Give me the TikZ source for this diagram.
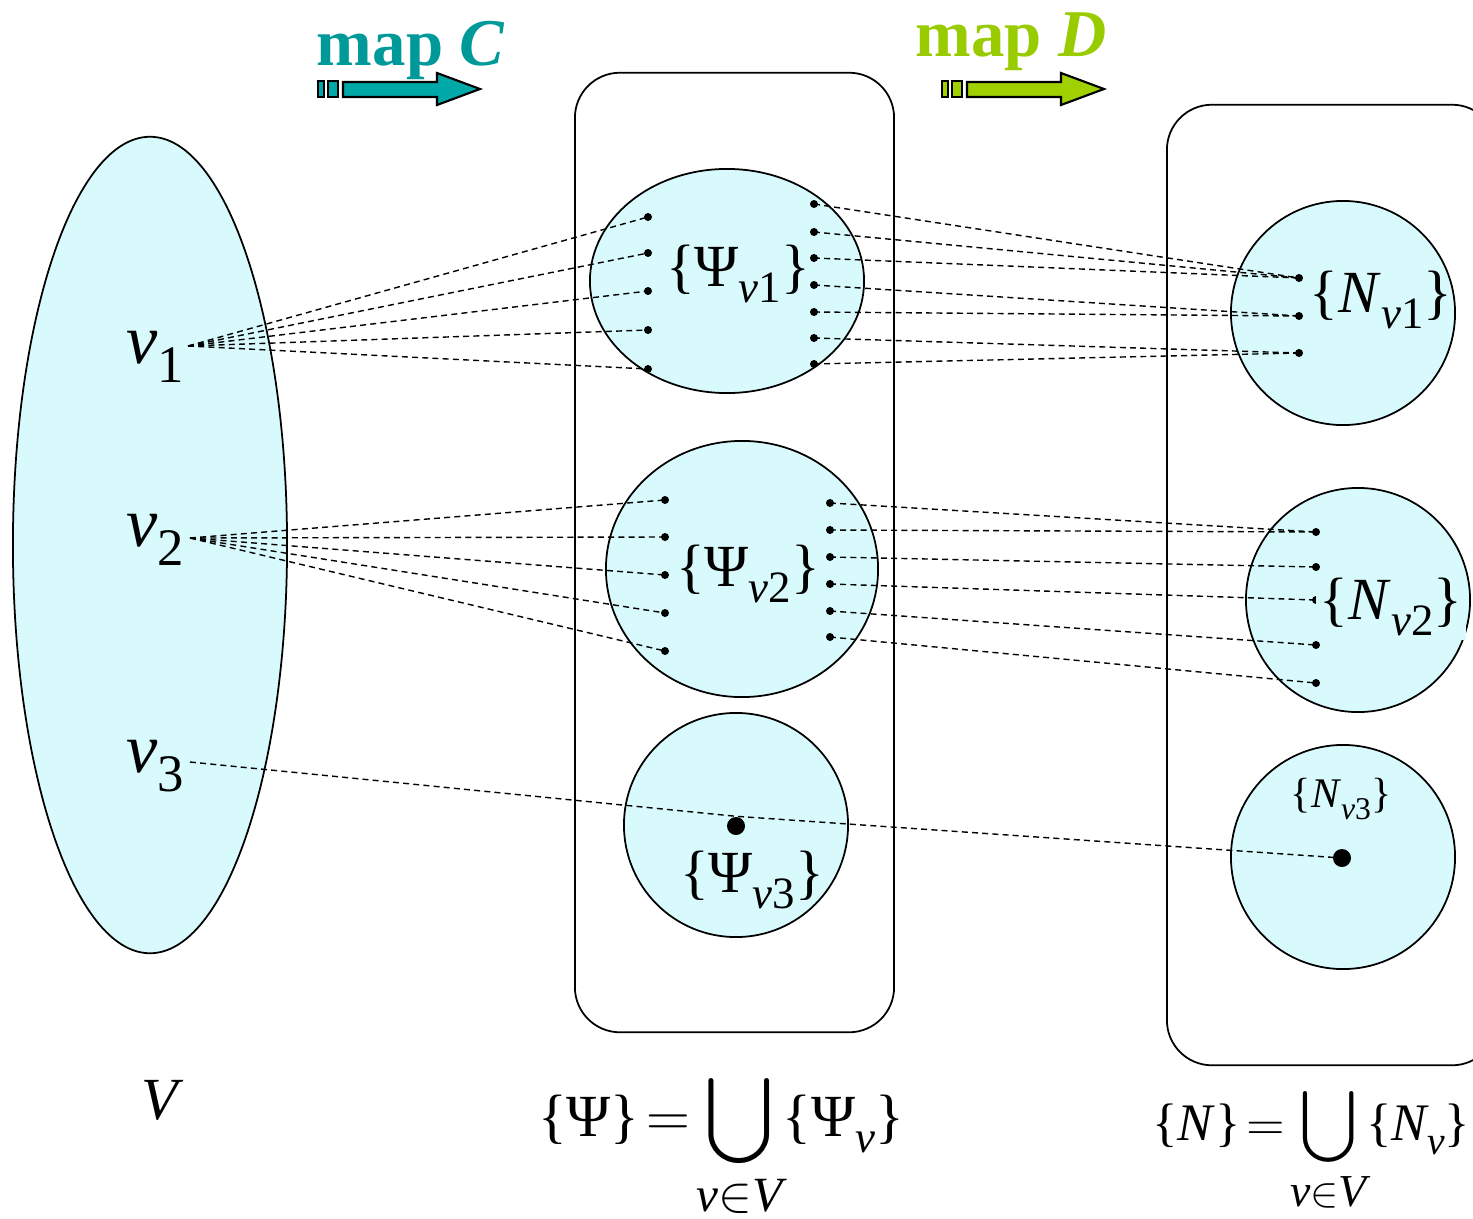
\documentclass[tikz,border=0pt]{standalone}
\usepackage{amsmath}
\usepackage{fontspec}
\setmainfont{Liberation Serif}
\usetikzlibrary{shapes.geometric}

\definecolor{setfill}{RGB}{217,250,252}
\definecolor{mapC}{RGB}{0,153,153}
\definecolor{mapCfill}{RGB}{0,168,168}
\definecolor{mapD}{RGB}{153,204,0}
\definecolor{mapDfill}{RGB}{160,208,0}

\newcommand{\lo}[1]{\raisebox{-0.28em}{\scalebox{0.75}{#1}}}
\newcommand{\fs}[1]{\fontsize{#1}{#1}\selectfont}
% block arrow under the map titles
\newcommand{\maparrow}[2]{%
	\begin{scope}[shift={(#1,0)}]
		\filldraw[fill=#2, line width=0.6pt] (0,81) rectangle (6,97) (10,81) rectangle (20,97);
		\filldraw[fill=#2, line width=0.6pt] (25,82) -- (119,82) -- (119,73) -- (162,89) -- (119,105) -- (119,97) -- (25,97) -- cycle;
	\end{scope}}

\tikzset{
	blob/.style={draw, fill=setfill, line width=0.5pt, inner sep=0pt},
	setbox/.style={draw, rounded corners=0.45cm, line width=0.5pt, inner sep=0pt},
	dot/.style={circle, fill=black, inner sep=0pt, minimum size=0.08cm},
	bigdot/.style={circle, fill=black, inner sep=0pt, minimum size=0.18cm},
	link/.style={dash pattern=on 1.7pt off 1.2pt, line width=0.4pt},
}

\begin{document}
\begin{tikzpicture}[x=0.01cm, y=-0.01cm]
	\clip (0,0) rectangle (1473,1218);
	
	% titles
	\node[font=\fs{19}\bfseries, text=mapC, anchor=base] (mapCtitle) at (411,65) {map \textit{C}};
	\node[font=\fs{19}\bfseries, text=mapD, anchor=base] (mapDtitle) at (1011,56) {map \textit{D}};
	\maparrow{318}{mapCfill}
	\maparrow{942}{mapDfill}
	
	% sets
	\node[setbox, minimum width=3.19cm, minimum height=9.59cm] (PsiSet) at (734.5,552.5) {};
	\node[setbox, minimum width=3.30cm, minimum height=9.60cm] (NSet) at (1332,585) {};
	\node[blob, ellipse, minimum width=2.74cm, minimum height=8.16cm] (V) at (150,545) {};
	\node[blob, ellipse, minimum width=2.74cm, minimum height=2.24cm] (Psi1) at (727,281) {};
	\node[blob, ellipse, minimum width=2.72cm, minimum height=2.56cm] (Psi2) at (742,569) {};
	\node[blob, circle, minimum size=2.24cm] (Psi3) at (736,825) {};
	\node[blob, circle, minimum size=2.24cm] (N1) at (1343,313) {};
	\node[blob, circle, minimum size=2.24cm] (N2) at (1358,600) {};
	\node[blob, circle, minimum size=2.24cm] (N3) at (1343,857) {};
	
	% points
	\foreach \y [count=\i] in {217,253,291,330,369}
		\node[dot] (a1-\i) at (648,\y) {};
	\foreach \y [count=\i] in {204,232,258,285,312,338,364}
		\node[dot] (b1-\i) at (814,\y) {};
	\foreach \y [count=\i] in {500,537,575,613,651}
		\node[dot] (a2-\i) at (665,\y) {};
	\foreach \y [count=\i] in {503,530,557,584,611,637}
		\node[dot] (b2-\i) at (830,\y) {};
	\foreach \y [count=\i] in {278,316,353}
		\node[dot] (c1-\i) at (1299,\y) {};
	\foreach \y [count=\i] in {532,567,600,645,683}
		\node[dot] (c2-\i) at (1316,\y) {};
	\node[bigdot] (a3) at (736,826) {};
	\node[bigdot] (c3) at (1342,858) {};
	
	\coordinate (s1) at (188,346);
	\coordinate (s2) at (190,538);
	\coordinate (s3) at (190,762);
	
	% map C
	\foreach \i in {1,...,5}
		\draw[link] (s1) -- (a1-\i.center);
	\foreach \i in {1,...,5}
		\draw[link] (s2) -- (a2-\i.center);
	% map D
	\foreach \i/\j in {1/1,2/1,3/1,4/2,5/2,6/3,7/3}
		\draw[link] (b1-\i.center) -- (c1-\j.center);
	\foreach \i/\j in {1/1,2/1,3/2,4/3,5/4,6/5}
		\draw[link] (b2-\i.center) -- (c2-\j.center);
	\draw[link] (s3) -- (a3.north) -- (c3.center);
	
	% labels
	\node[font=\fs{20}] (v1) at (155,357) {\textit{v}\lo{1}};
	\node[font=\fs{20}] (v2) at (155,540) {\textit{v}\lo{2}};
	\node[font=\fs{20}] (v3) at (155,766) {\textit{v}\lo{3}};
	\node[font=\fs{17}] (Vlabel) at (163,1100) {\textit{V}};
	\node[font=\fs{17}] (Psi1label) at (738,274) {\{Ψ\lo{\textit{v}1}\}};
	\node[font=\fs{17}] (Psi2label) at (748,574) {\{Ψ\lo{\textit{v}2}\}};
	\node[font=\fs{17}] (Psi3label) at (752,880) {\{Ψ\lo{\textit{v}3}\}};
	\node[font=\fs{17}] (N1label) at (1381,300) {\{\textit{N}\lo{\textit{v}1}\}};
	\node[font=\fs{17}, fill=setfill, inner sep=1pt] (N2label) at (1391,607) {\{\textit{N}\lo{\textit{v}2}\}};
	\node[font=\fs{12}] (N3label) at (1341,799) {\{\textit{N}\lo{\textit{v}3}\}};
	
	% unions
	\node[font=\fs{17}, anchor=base] (PsiUnion) at (721,1136)
		{$\text{\{Ψ\}}\!=\!\displaystyle\bigcup\limits_{\text{\fs{14}\itshape v$\in$V}}\!\text{\{Ψ\lo{\itshape v}\}}$};
	\node[font=\fs{15}, anchor=base] (NUnion) at (1311,1140)
		{$\text{\{\itshape N\/\upshape\}}\!=\!\displaystyle\bigcup\limits_{\text{\fs{13}\itshape v$\in$V}}\!\text{\{\itshape N\lo{v}\upshape\}}$};
\end{tikzpicture}
\end{document}
